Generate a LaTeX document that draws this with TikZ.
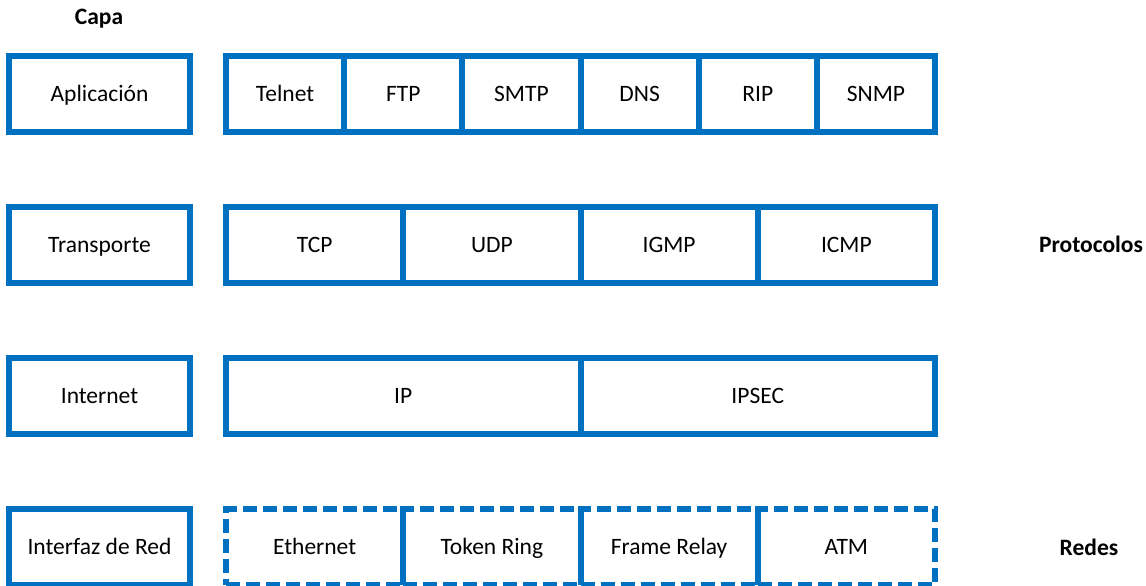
\documentclass[tikz,border=0pt]{standalone}
\usepackage{fontspec}
\setmainfont{Carlito}
\usetikzlibrary{positioning}
\definecolor{capablue}{RGB}{0,112,192}

\begin{document}
\begin{tikzpicture}[x=1pt, y=-1pt, font=\fontsize{23.5}{28}\selectfont,
    layerbox/.style={draw=capablue, line width=6pt, minimum width=181pt,
        minimum height=76pt, inner sep=0pt, outer sep=0pt,
        text height=15pt, text depth=0pt},
    cellbox/.style={layerbox, minimum width=#1},
    netbox/.style={cellbox=#1, dash pattern=on 14pt off 6pt},
    sidelabel/.style={font=\fontsize{23.5}{28}\selectfont\bfseries,
        text height=15pt, text depth=0pt, inner sep=0pt}]

    % --- 1. Frame ---
    \useasboundingbox (0,0) rectangle (1146,586);
    \def\gap{36pt}   % space between layer and protocols
    \def\row{75pt}   % space between rows

    % --- 2. Layers ---
    \node[sidelabel] (capa) at (99,17) {Capa};
    \node[layerbox] (app) at (99.5,94) {Aplicación};
    \node[layerbox, below=\row of app] (trans) {Transporte};
    \node[layerbox, below=\row of trans] (inet) {Internet};
    \node[layerbox, below=\row of inet] (net) {Interfaz de Red};

    % --- 3. Application protocols ---
    \node[cellbox=118.17pt, right=\gap of app] (telnet) {Telnet};
    \node[cellbox=118.17pt, right=0pt of telnet] (ftp) {FTP};
    \node[cellbox=118.17pt, right=0pt of ftp] (smtp) {SMTP};
    \node[cellbox=118.17pt, right=0pt of smtp] (dns) {DNS};
    \node[cellbox=118.17pt, right=0pt of dns] (rip) {RIP};
    \node[cellbox=118.17pt, right=0pt of rip] (snmp) {SNMP};

    % --- 4. Transport protocols ---
    \node[cellbox=177.25pt, right=\gap of trans] (tcp) {TCP};
    \node[cellbox=177.25pt, right=0pt of tcp] (udp) {UDP};
    \node[cellbox=177.25pt, right=0pt of udp] (igmp) {IGMP};
    \node[cellbox=177.25pt, right=0pt of igmp] (icmp) {ICMP};

    % --- 5. Internet protocols ---
    \node[cellbox=354.5pt, right=\gap of inet] (ip) {IP};
    \node[cellbox=354.5pt, right=0pt of ip] (ipsec) {IPSEC};

    % --- 6. Networks (dashed) ---
    \node[netbox=177.25pt, right=\gap of net] (ethernet) {Ethernet};
    \node[netbox=177.25pt, right=0pt of ethernet] (token) {Token Ring};
    \node[netbox=177.25pt, right=0pt of token] (frame) {Frame Relay};
    \node[netbox=177.25pt, right=0pt of frame] (atm) {ATM};

    % --- 7. Side labels ---
    \node[sidelabel] (protocolos) at (1091,245) {Protocolos};
    \node[sidelabel] (redes) at (1089,548) {Redes};

\end{tikzpicture}
\end{document}
